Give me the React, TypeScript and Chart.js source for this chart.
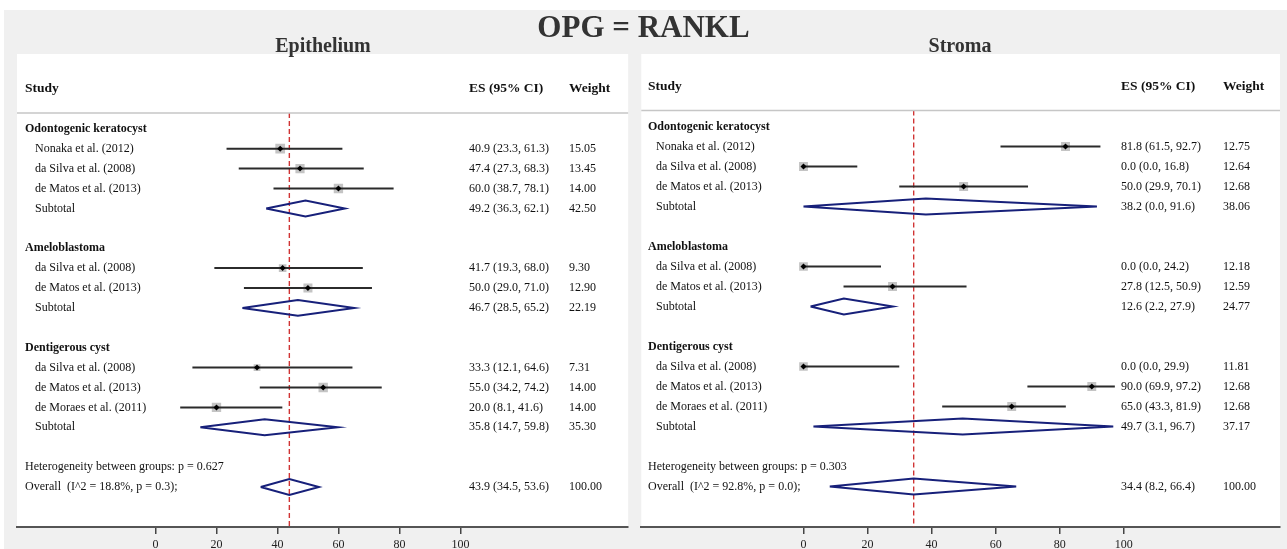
import React, { useEffect, useRef } from "react";
import { Chart, registerables } from "chart.js";

Chart.register(...registerables);

const FONT = '"Liberation Serif", "Times New Roman", serif';

// ---------- shared labels ----------
const groupNames = ["Odontogenic keratocyst", "Ameloblastoma", "Dentigerous cyst"];
const groupStudies = [
  ["Nonaka et al. (2012)", "da Silva et al. (2008)", "de Matos et al. (2013)"],
  ["da Silva et al. (2008)", "de Matos et al. (2013)"],
  ["da Silva et al. (2008)", "de Matos et al. (2013)", "de Moraes et al. (2011)"],
];
const xTicks = [0, 20, 40, 60, 80, 100];

// ---------- Epithelium ----------
const epiES = [40.9, 47.4, 60.0, 41.7, 50.0, 33.3, 55.0, 20.0];
const epiLow = [23.3, 27.3, 38.7, 19.3, 29.0, 12.1, 34.2, 8.1];
const epiHigh = [61.3, 68.3, 78.1, 68.0, 71.0, 64.6, 74.2, 41.6];
const epiWeight = [15.05, 13.45, 14.0, 9.3, 12.9, 7.31, 14.0, 14.0];
const epiSubES = [49.2, 46.7, 35.8];
const epiSubLow = [36.3, 28.5, 14.7];
const epiSubHigh = [62.1, 65.2, 59.8];
const epiSubWeight = [42.5, 22.19, 35.3];
const epiOverall = [43.9, 34.5, 53.6];
const epiHetP = "0.627";
const epiI2 = "18.8%";
const epiOverallP = "0.3";

// ---------- Stroma ----------
const strES = [81.8, 0.0, 50.0, 0.0, 27.8, 0.0, 90.0, 65.0];
const strLow = [61.5, 0.0, 29.9, 0.0, 12.5, 0.0, 69.9, 43.3];
const strHigh = [92.7, 16.8, 70.1, 24.2, 50.9, 29.9, 97.2, 81.9];
const strWeight = [12.75, 12.64, 12.68, 12.18, 12.59, 11.81, 12.68, 12.68];
const strSubES = [38.2, 12.6, 49.7];
const strSubLow = [0.0, 2.2, 3.1];
const strSubHigh = [91.6, 27.9, 96.7];
const strSubWeight = [38.06, 24.77, 37.17];
const strOverall = [34.4, 8.2, 66.4];
const strHetP = "0.303";
const strI2 = "92.8%";
const strOverallP = "0.0";

type Row = {
  kind: "group" | "study" | "subtotal" | "het" | "overall";
  label: string;
  row: number;
  es?: number;
  lo?: number;
  hi?: number;
  w?: number;
};

function buildRows(
  es: number[], lo: number[], hi: number[], w: number[],
  sES: number[], sLo: number[], sHi: number[], sW: number[],
  overall: number[], hetP: string, i2: string, pOv: string
): Row[] {
  const rows: Row[] = [];
  let r = 0;
  let k = 0;
  groupNames.forEach((g, gi) => {
    rows.push({ kind: "group", label: g, row: r });
    r++;
    groupStudies[gi].forEach((name) => {
      rows.push({ kind: "study", label: name, row: r, es: es[k], lo: lo[k], hi: hi[k], w: w[k] });
      k++;
      r++;
    });
    rows.push({ kind: "subtotal", label: "Subtotal", row: r, es: sES[gi], lo: sLo[gi], hi: sHi[gi], w: sW[gi] });
    r += 2;
  });
  rows.push({ kind: "het", label: `Heterogeneity between groups: p = ${hetP}`, row: r });
  r++;
  rows.push({
    kind: "overall",
    label: `Overall  (I^2 = ${i2}, p = ${pOv});`,
    row: r,
    es: overall[0],
    lo: overall[1],
    hi: overall[2],
    w: 100,
  });
  return rows;
}

type Panel = {
  rows: Row[];
  canvasLeft: number;
  canvasWidth: number;
  areaLeft: number;
  areaRight: number;
  areaTop: number;
  areaBottom: number;
  x0: number;
  x100: number;
  y0: number;
  step: number;
  colStudy: number;
  colName: number;
  colES: number;
  colW: number;
};

const H = 549;

const panels: Panel[] = [
  {
    rows: buildRows(epiES, epiLow, epiHigh, epiWeight, epiSubES, epiSubLow, epiSubHigh, epiSubWeight, epiOverall, epiHetP, epiI2, epiOverallP),
    canvasLeft: 0,
    canvasWidth: 635,
    areaLeft: 17,
    areaRight: 629,
    areaTop: 54,
    areaBottom: 527,
    x0: 155.7,
    x100: 461,
    y0: 128.8,
    step: 19.9,
    colStudy: 25,
    colName: 35,
    colES: 469,
    colW: 569,
  },
  {
    rows: buildRows(strES, strLow, strHigh, strWeight, strSubES, strSubLow, strSubHigh, strSubWeight, strOverall, strHetP, strI2, strOverallP),
    canvasLeft: 635,
    canvasWidth: 652,
    areaLeft: 640,
    areaRight: 1280,
    areaTop: 54,
    areaBottom: 527,
    x0: 802.5,
    x100: 1123.5,
    y0: 126.5,
    step: 20,
    colStudy: 648,
    colName: 656,
    colES: 1121,
    colW: 1223,
  },
];

const HEADER_ROW = -2.0;
const SEP_ROW = -0.8;
const DIAMOND_HALF = 0.4;

function makeConfig(p: Panel): any {
  const ppu = (p.x100 - p.x0) / 100;
  const xMin = -(p.x0 - p.areaLeft) / ppu;
  const xMax = (p.areaRight - p.x0) / ppu;
  const yMin = (p.areaTop - p.y0) / p.step;
  const yMax = (p.areaBottom - p.y0) / p.step;

  const studies = p.rows.filter((r) => r.kind === "study");
  const pooled = p.rows.filter((r) => r.kind === "subtotal" || r.kind === "overall");
  const overall = p.rows.find((r) => r.kind === "overall")!;

  const ciData: any[] = [];
  studies.forEach((s) => {
    ciData.push({ x: s.lo, y: s.row }, { x: s.hi, y: s.row }, { x: null, y: null });
  });
  const diamondData: any[] = [];
  pooled.forEach((s) => {
    diamondData.push(
      { x: s.lo, y: s.row },
      { x: s.es, y: s.row - DIAMOND_HALF },
      { x: s.hi, y: s.row },
      { x: s.es, y: s.row + DIAMOND_HALF },
      { x: s.lo, y: s.row },
      { x: null, y: null }
    );
  });

  const forestPlugin = {
    id: "forestText",
    beforeDraw(chart: any) {
      const { ctx, chartArea: a } = chart;
      ctx.save();
      ctx.fillStyle = "#ffffff";
      ctx.fillRect(a.left, a.top, a.right - a.left, a.bottom - a.top);
      ctx.restore();
    },
    afterDraw(chart: any) {
      const { ctx, chartArea: a } = chart;
      const ys = chart.scales.y;
      const off = p.canvasLeft;
      ctx.save();
      // separator
      const sy = ys.getPixelForValue(SEP_ROW);
      ctx.strokeStyle = "#c6c6c6";
      ctx.lineWidth = 1.5;
      ctx.beginPath();
      ctx.moveTo(a.left, sy);
      ctx.lineTo(a.right, sy);
      ctx.stroke();

      ctx.fillStyle = "#111";
      ctx.textBaseline = "middle";
      ctx.textAlign = "left";
      const hy = ys.getPixelForValue(HEADER_ROW);
      ctx.font = `bold 13.5px ${FONT}`;
      ctx.fillText("Study", p.colStudy - off, hy);
      ctx.fillText("ES (95% CI)", p.colES - off, hy);
      ctx.fillText("Weight", p.colW - off, hy);

      p.rows.forEach((r) => {
        const y = ys.getPixelForValue(r.row);
        if (r.kind === "group") {
          ctx.font = `bold 12px ${FONT}`;
          ctx.fillText(r.label, p.colStudy - off, y);
          return;
        }
        ctx.font = `12px ${FONT}`;
        const lx = r.kind === "study" || r.kind === "subtotal" ? p.colName : p.colStudy;
        ctx.fillText(r.label, lx - off, y);
        if (r.es !== undefined) {
          ctx.fillText(`${r.es.toFixed(1)} (${r.lo!.toFixed(1)}, ${r.hi!.toFixed(1)})`, p.colES - off, y);
          ctx.fillText(r.w!.toFixed(2), p.colW - off, y);
        }
      });
      ctx.restore();
    },
  };

  return {
    type: "scatter",
    data: {
      datasets: [
        {
          label: "estimate",
          type: "scatter",
          order: 0,
          data: studies.map((s) => ({ x: s.es, y: s.row })),
          pointStyle: "rectRot",
          pointRadius: 3,
          backgroundColor: "#000",
          borderWidth: 0,
        },
        {
          label: "pooled",
          type: "line",
          order: 1,
          data: diamondData,
          borderColor: "#17207a",
          borderWidth: 2,
          pointRadius: 0,
          fill: false,
          spanGaps: false,
          tension: 0,
        },
        {
          label: "ci",
          type: "line",
          order: 2,
          data: ciData,
          borderColor: "#2b2b2b",
          borderWidth: 2,
          pointRadius: 0,
          fill: false,
          spanGaps: false,
        },
        {
          label: "weight",
          type: "scatter",
          order: 3,
          data: studies.map((s) => ({ x: s.es, y: s.row })),
          pointStyle: "rect",
          pointRadius: studies.map((s) => (2.5 * Math.sqrt(s.w!)) / Math.SQRT2),
          backgroundColor: "#c4c4c4",
          borderWidth: 0,
        },
        {
          label: "overall line",
          type: "line",
          order: 4,
          data: [
            { x: overall.es, y: SEP_ROW },
            { x: overall.es, y: yMax },
          ],
          borderColor: "#d03434",
          borderWidth: 1.4,
          borderDash: [5, 3],
          pointRadius: 0,
          fill: false,
        },
      ],
    },
    options: {
      animation: false,
      responsive: false,
      maintainAspectRatio: false,
      events: [],
      layout: {
        padding: {
          left: p.areaLeft - p.canvasLeft,
          right: p.canvasLeft + p.canvasWidth - p.areaRight,
          top: p.areaTop,
          bottom: 0,
        },
      },
      plugins: {
        legend: { display: false },
        tooltip: { enabled: false },
        title: { display: false },
      },
      scales: {
        x: {
          type: "linear",
          position: "bottom",
          min: xMin,
          max: xMax,
          afterBuildTicks: (s: any) => {
            s.ticks = xTicks.map((v) => ({ value: v }));
          },
          afterFit: (s: any) => {
            s.height = H - p.areaBottom;
          },
          grid: {
            drawOnChartArea: false,
            drawTicks: true,
            tickLength: 7,
            color: "#444",
            lineWidth: 1.5,
          },
          border: { display: true, color: "#555", width: 2 },
          ticks: {
            font: { family: FONT, size: 12 },
            color: "#222",
            padding: 4,
            maxRotation: 0,
            autoSkip: false,
            callback: (v: any) => String(v),
          },
        },
        y: {
          type: "linear",
          reverse: true,
          min: yMin,
          max: yMax,
          display: false,
        },
      },
    },
    plugins: [forestPlugin],
  };
}

function ForestPanel({ panel }: { panel: Panel }) {
  const ref = useRef<HTMLCanvasElement>(null);
  useEffect(() => {
    const chart = new Chart(ref.current as HTMLCanvasElement, makeConfig(panel));
    return () => chart.destroy();
  }, [panel]);
  return (
    <canvas
      ref={ref}
      width={panel.canvasWidth}
      height={H}
      style={{ position: "absolute", left: panel.canvasLeft, top: 0, width: panel.canvasWidth, height: H }}
    />
  );
}

const titleStyle: React.CSSProperties = {
  position: "absolute",
  textAlign: "center",
  fontFamily: FONT,
  fontWeight: "bold",
  color: "#333",
  whiteSpace: "nowrap",
};

export default function App() {
  return (
    <div style={{ position: "absolute", left: 0, top: 0, width: 1287, height: H, background: "#fff", overflow: "hidden" }}>
      <div style={{ position: "absolute", left: 4, top: 10, right: 0, bottom: 0, background: "#f0f0f0" }} />
      <ForestPanel panel={panels[0]} />
      <ForestPanel panel={panels[1]} />
      <div style={{ ...titleStyle, left: 0, width: 1287, top: 11, fontSize: 31, lineHeight: "31px" }}>OPG = RANKL</div>
      <div style={{ ...titleStyle, left: 17, width: 612, top: 35, fontSize: 20, lineHeight: "20px" }}>Epithelium</div>
      <div style={{ ...titleStyle, left: 640, width: 640, top: 35, fontSize: 20, lineHeight: "20px" }}>Stroma</div>
    </div>
  );
}
